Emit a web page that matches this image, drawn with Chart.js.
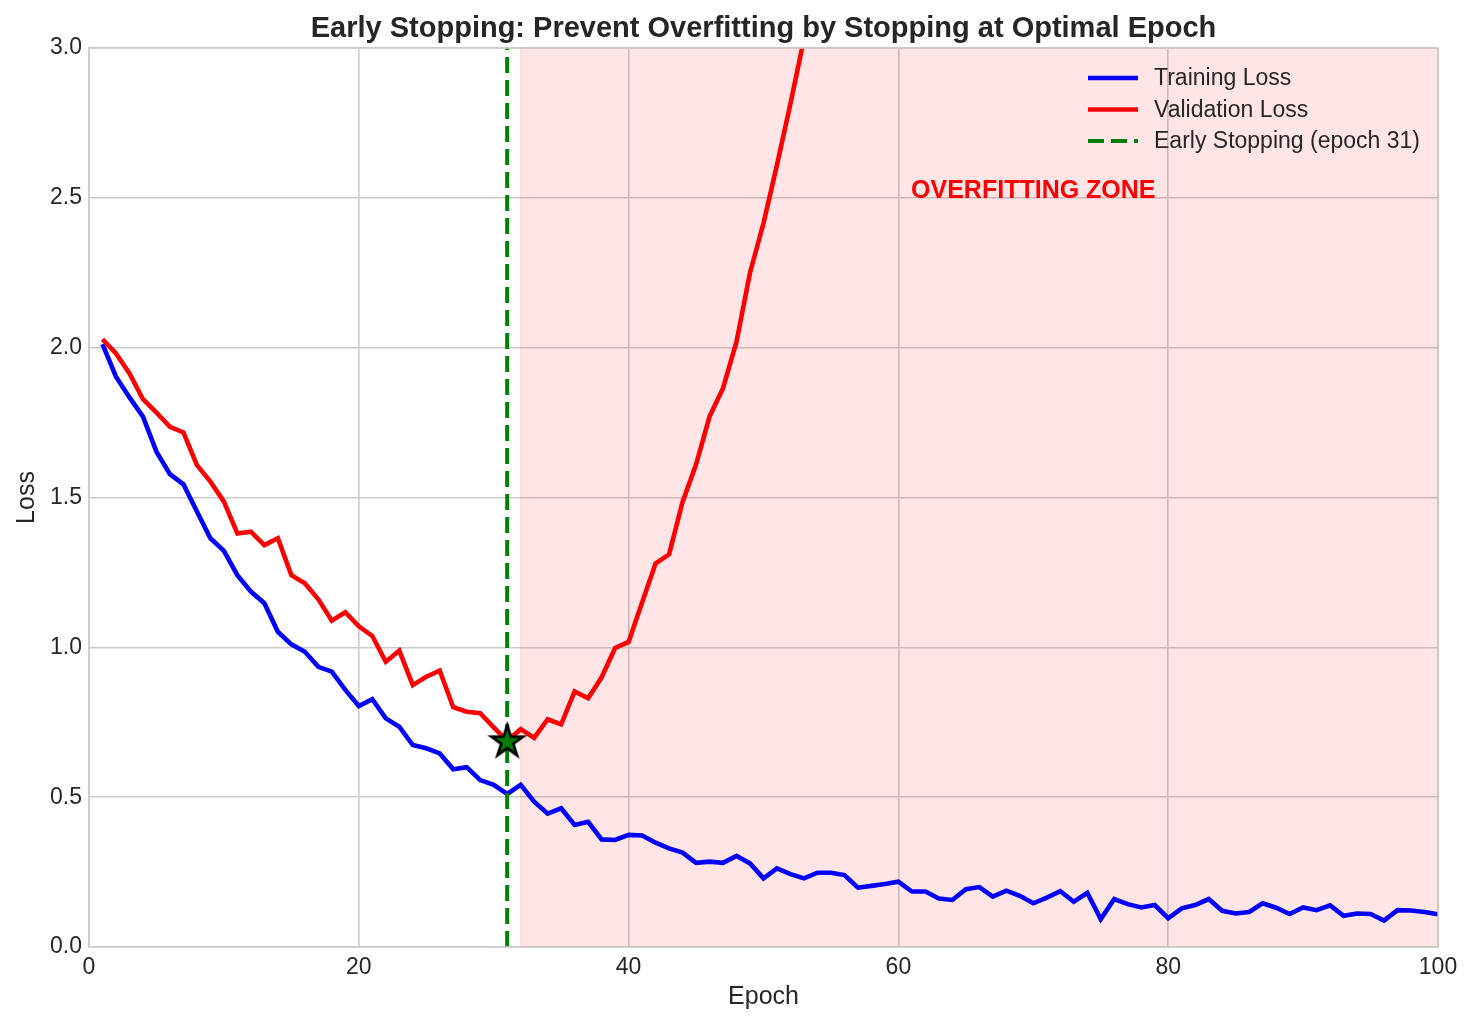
<!DOCTYPE html>
<html>
<head>
<meta charset="utf-8">
<title>Early Stopping</title>
<script src="https://cdn.jsdelivr.net/npm/chart.js@4.4.0/dist/chart.umd.min.js"></script>
<style>
  html, body { margin: 0; padding: 0; background: #fff; }
  #wrap { width: 1475px; height: 1025px; }
</style>
</head>
<body>
<div id="wrap"><canvas id="cv" width="1475" height="1025"></canvas></div>
<script>
/* global Chart */
// --- data
const epochs = [
  1, 2, 3, 4, 5, 6, 7, 8, 9, 10, 11, 12, 13, 14, 15, 16, 17, 18, 19, 20,
  21, 22, 23, 24, 25, 26, 27, 28, 29, 30, 31, 32, 33, 34, 35, 36, 37, 38, 39, 40,
  41, 42, 43, 44, 45, 46, 47, 48, 49, 50, 51, 52, 53, 54, 55, 56, 57, 58, 59, 60,
  61, 62, 63, 64, 65, 66, 67, 68, 69, 70, 71, 72, 73, 74, 75, 76, 77, 78, 79, 80,
  81, 82, 83, 84, 85, 86, 87, 88, 89, 90, 91, 92, 93, 94, 95, 96, 97, 98, 99, 100
];

const trainLoss = [
  2.012, 1.903, 1.834, 1.770, 1.653, 1.578, 1.544, 1.453, 1.364, 1.322,
  1.241, 1.186, 1.147, 1.052, 1.010, 0.985, 0.935, 0.919, 0.858, 0.804,
  0.827, 0.763, 0.735, 0.674, 0.663, 0.646, 0.593, 0.600, 0.557, 0.541,
  0.511, 0.541, 0.485, 0.445, 0.463, 0.407, 0.418, 0.359, 0.357, 0.374,
  0.372, 0.348, 0.329, 0.315, 0.281, 0.285, 0.281, 0.304, 0.279, 0.229,
  0.262, 0.243, 0.229, 0.248, 0.248, 0.240, 0.198, 0.204, 0.210, 0.218,
  0.185, 0.185, 0.162, 0.157, 0.193, 0.200, 0.168, 0.188, 0.171, 0.146,
  0.165, 0.186, 0.151, 0.181, 0.093, 0.160, 0.143, 0.132, 0.140, 0.096,
  0.129, 0.140, 0.160, 0.121, 0.112, 0.117, 0.146, 0.131, 0.110, 0.132,
  0.123, 0.139, 0.104, 0.112, 0.110, 0.088, 0.123, 0.122, 0.117, 0.109
];

// validation leaves the top of the axes after epoch 53
const valLoss = [
  2.028, 1.981, 1.914, 1.828, 1.783, 1.736, 1.717, 1.608, 1.553, 1.486,
  1.380, 1.386, 1.341, 1.364, 1.241, 1.214, 1.160, 1.089, 1.117, 1.070,
  1.038, 0.952, 0.989, 0.874, 0.902, 0.922, 0.800, 0.785, 0.780, 0.733,
  0.688, 0.727, 0.698, 0.760, 0.743, 0.853, 0.830, 0.900, 0.998, 1.018,
  1.150, 1.280, 1.310, 1.485, 1.610, 1.770, 1.865, 2.020, 2.250, 2.415,
  2.610, 2.815, 3.030, 3.250
];

const stopEpoch = 31;
const zoneStart = 32;
const zoneEnd = 100;
const zoneLabel = "OVERFITTING ZONE";
const zoneLabelAt = [70, 2.5];

const xTicks = [0, 20, 40, 60, 80, 100];
const yTicks = [0.0, 0.5, 1.0, 1.5, 2.0, 2.5, 3.0];

const FONT = "'Liberation Sans', Arial, Helvetica, sans-serif";
const TEXT = "#262626";
const GRID = "#cccccc";

function points(ys) {
  return ys.map((v, i) => ({ x: epochs[i], y: v }));
}

// green star with black edge, used as the point image
function starImage(r, fill, edge) {
  const size = Math.ceil(r * 2 + 8);
  const c = document.createElement("canvas");
  c.width = size;
  c.height = size;
  const g = c.getContext("2d");
  const cx = size / 2, cy = size / 2 + 1;
  const inner = r * 0.382;
  g.beginPath();
  for (let i = 0; i < 10; i++) {
    const rr = i % 2 === 0 ? r : inner;
    const a = -Math.PI / 2 + i * Math.PI / 5;
    const px = cx + rr * Math.cos(a), py = cy + rr * Math.sin(a);
    if (i === 0) g.moveTo(px, py); else g.lineTo(px, py);
  }
  g.closePath();
  g.fillStyle = fill;
  g.fill();
  g.lineJoin = "miter";
  g.lineWidth = 2.8;
  g.strokeStyle = edge;
  g.stroke();
  return c;
}

const overlay = {
  id: "overlay",
  beforeDatasetsDraw(chart) {
    const { ctx, chartArea, scales } = chart;
    const x0 = scales.x.getPixelForValue(zoneStart);
    const x1 = scales.x.getPixelForValue(zoneEnd);
    ctx.save();
    ctx.fillStyle = "rgba(255,0,0,0.1)";
    ctx.fillRect(x0, chartArea.top, x1 - x0, chartArea.bottom - chartArea.top);
    ctx.strokeStyle = "rgba(255,0,0,0.1)";
    ctx.lineWidth = 1.5;
    ctx.strokeRect(x0, chartArea.top, x1 - x0, chartArea.bottom - chartArea.top);
    ctx.restore();
  },
  afterDraw(chart) {
    const { ctx, chartArea, scales } = chart;
    ctx.save();

    // frame
    ctx.strokeStyle = GRID;
    ctx.lineWidth = 1.6;
    ctx.strokeRect(chartArea.left, chartArea.top, chartArea.right - chartArea.left, chartArea.bottom - chartArea.top);

    // title, centred over the axes
    ctx.fillStyle = TEXT;
    ctx.font = "bold 29px " + FONT;
    ctx.textAlign = "center";
    ctx.textBaseline = "alphabetic";
    ctx.fillText("Early Stopping: Prevent Overfitting by Stopping at Optimal Epoch",
      (chartArea.left + chartArea.right) / 2, 37);

    // zone label
    ctx.fillStyle = "#ff0000";
    ctx.font = "bold 25px " + FONT;
    ctx.fillText(zoneLabel, scales.x.getPixelForValue(zoneLabelAt[0]), scales.y.getPixelForValue(zoneLabelAt[1]));

    // legend (upper right, no frame), in plotting order
    const items = chart.data.datasets
      .filter(d => d.legendRank)
      .sort((a, b) => a.legendRank - b.legendRank);
    const hx = chartArea.right - 350;
    const tx = chartArea.right - 284;
    let ty = chartArea.top + 30;
    ctx.textAlign = "left";
    ctx.textBaseline = "middle";
    ctx.font = "23px " + FONT;
    for (const d of items) {
      ctx.beginPath();
      ctx.strokeStyle = d.borderColor;
      ctx.lineWidth = d.borderWidth;
      ctx.setLineDash(d.borderDash || []);
      ctx.lineCap = "butt";
      ctx.moveTo(hx, ty);
      ctx.lineTo(hx + 50, ty);
      ctx.stroke();
      ctx.setLineDash([]);
      ctx.fillStyle = TEXT;
      ctx.fillText(d.label, tx, ty + 1);
      ty += 31.5;
    }
    ctx.restore();
  }
};

new Chart(document.getElementById("cv"), {
  type: "line",
  data: {
    datasets: [
      {
        label: "best",
        type: "scatter",
        data: [{ x: stopEpoch, y: valLoss[stopEpoch - 1] }],
        pointStyle: starImage(16.5, "#008000", "#000000"),
        pointRadius: 18,
        clip: false,
        order: 0
      },
      {
        label: `Early Stopping (epoch ${stopEpoch})`,
        legendRank: 3,
        data: [{ x: stopEpoch, y: yTicks[0] }, { x: stopEpoch, y: yTicks[yTicks.length - 1] }],
        borderColor: "#008000",
        borderWidth: 4,
        borderDash: [16, 7],
        pointRadius: 0,
        clip: 0,
        order: 1
      },
      {
        label: "Validation Loss",
        legendRank: 2,
        data: points(valLoss),
        borderColor: "#ff0000",
        borderWidth: 4.6,
        pointRadius: 0,
        tension: 0,
        clip: 0,
        order: 2
      },
      {
        label: "Training Loss",
        legendRank: 1,
        data: points(trainLoss),
        borderColor: "#0000ff",
        borderWidth: 4.6,
        pointRadius: 0,
        tension: 0,
        clip: 0,
        order: 3
      }
    ]
  },
  options: {
    responsive: false,
    animation: false,
    devicePixelRatio: 1,
    layout: { padding: { top: 48, right: 37, left: 0, bottom: 0 } },
    plugins: {
      legend: { display: false },
      tooltip: { enabled: false },
      title: { display: false }
    },
    scales: {
      x: {
        type: "linear",
        min: xTicks[0],
        max: xTicks[xTicks.length - 1],
        afterBuildTicks: s => { s.ticks = xTicks.map(v => ({ value: v })); },
        afterFit: s => { s.height = 78; },
        grid: { color: GRID, lineWidth: 1.6, drawTicks: false },
        border: { display: false },
        ticks: { color: TEXT, font: { family: FONT, size: 23 }, padding: 7, maxRotation: 0 },
        title: { display: true, text: "Epoch", color: TEXT, font: { family: FONT, size: 25 }, padding: { top: 0, bottom: 13 } }
      },
      y: {
        type: "linear",
        min: yTicks[0],
        max: yTicks[yTicks.length - 1],
        afterBuildTicks: s => { s.ticks = yTicks.map(v => ({ value: v })); },
        afterFit: s => { s.width = 89; },
        grid: { color: GRID, lineWidth: 1.6, drawTicks: false },
        border: { display: false },
        ticks: { color: TEXT, font: { family: FONT, size: 23 }, padding: 7, callback: v => Number(v).toFixed(1) },
        title: { display: true, text: "Loss", color: TEXT, font: { family: FONT, size: 25 }, padding: { top: 12, bottom: 0 } }
      }
    }
  },
  plugins: [overlay]
});
</script>
</body>
</html>
